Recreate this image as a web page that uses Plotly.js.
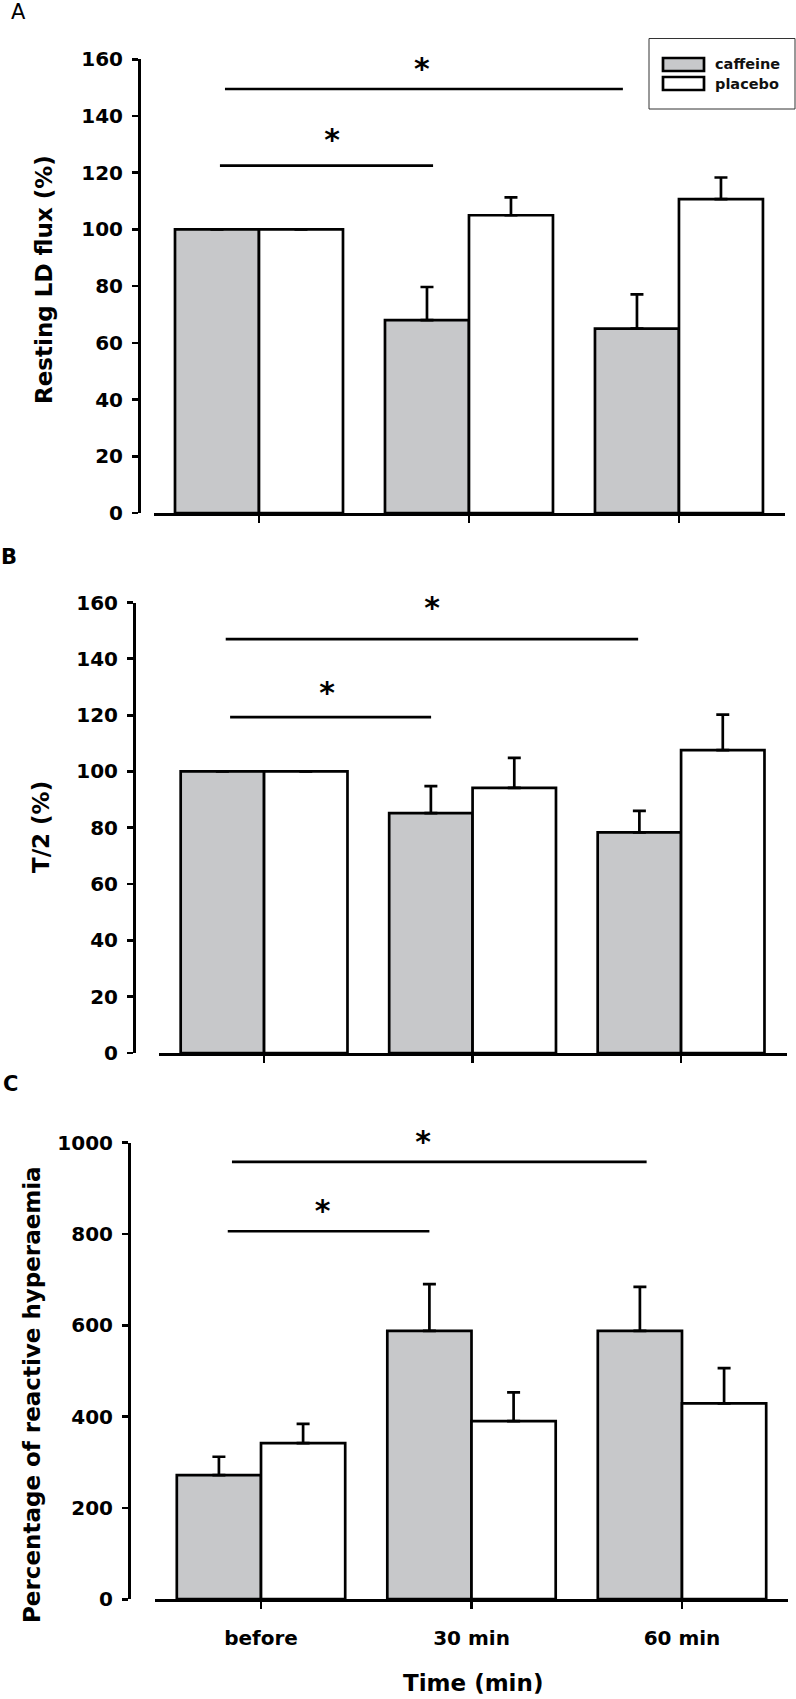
<!DOCTYPE html>
<html>
<head>
<meta charset="utf-8">
<script src="https://cdn.plot.ly/plotly-3.0.1.min.js"></script>
<style>html,body{margin:0;padding:0;background:#fff;}#chart{width:796px;height:1699px;}</style>
</head>
<body>
<div id="chart"></div>
<script>
// ---- data ----
const categories = ['before', '30 min', '60 min'];
const seriesNames = ['caffeine', 'placebo'];

// Panel A: Resting LD flux (%)
const caffeineA = [100, 68, 65];
const caffeineErrA = [null, 11.7, 12.1];
const placeboA = [100, 105, 110.7];
const placeboErrA = [null, 6.3, 7.6];

// Panel B: T/2 (%)
const caffeineB = [100, 85.2, 78.4];
const caffeineErrB = [null, 9.6, 7.6];
const placeboB = [100, 94.2, 107.6];
const placeboErrB = [null, 10.6, 12.6];

// Panel C: Percentage of reactive hyperaemia
const caffeineC = [272, 588, 588];
const caffeineErrC = [40, 102, 96];
const placeboC = [342, 390, 429];
const placeboErrC = [42, 63, 77];

// significance brackets: [xStart, xEnd, level]
const sigA = [[-0.162, 1.733, 149.5], [-0.186, 0.829, 122.5]];
const sigB = [[-0.184, 1.794, 147], [-0.163, 0.801, 119.3]];
const sigC = [[-0.138, 1.832, 958], [-0.158, 0.800, 806]];
// stars (text anchor points): [x, y]
const starsA = [[0.776, 155.5], [0.348, 130.5]];
const starsB = [[0.806, 157], [0.302, 127]];
const starsC = [[0.770, 997], [0.293, 845]];

const yTitles = ['Resting LD flux (%)', 'T/2 (%)', 'Percentage of reactive hyperaemia'];
const xTitle = 'Time (min)';
const panelLabels = ['A', 'B', 'C'];

// ---- styles ----
const FONT = 'DejaVu Sans, Verdana, sans-serif';
const GRAY = '#c7c8ca';
const LW = 2.7;
const W = 796, H = 1699;
const px = v => v / W;
const py = v => (H - v) / H;

const xpos = categories.map((_, i) => i);

function barPair(vals1, err1, vals2, err2, ax) {
  const mk = (vals, err, color, name) => ({
    type: 'bar', x: xpos, y: vals, name: name,
    xaxis: 'x' + ax, yaxis: 'y' + ax,
    marker: {color: color, line: {color: '#000', width: LW}},
    error_y: {type: 'data', symmetric: false, array: err, arrayminus: err.map(() => 0),
              color: '#000', thickness: LW, width: 6.5},
    showlegend: false, hoverinfo: 'skip'
  });
  return [mk(vals1, err1, GRAY, seriesNames[0]), mk(vals2, err2, '#ffffff', seriesNames[1])];
}
function sigTraces(sig, stars, ax) {
  const lx = [], ly = [];
  sig.forEach(s => { lx.push(s[0], s[1], null); ly.push(s[2], s[2], null); });
  return [
    {type: 'scatter', mode: 'lines', x: lx, y: ly, xaxis: 'x' + ax, yaxis: 'y' + ax,
     line: {color: '#000', width: LW}, cliponaxis: false, showlegend: false, hoverinfo: 'skip'},
    {type: 'scatter', mode: 'text', x: stars.map(s => s[0]), y: stars.map(s => s[1]),
     text: stars.map(() => '*'), textposition: 'middle center',
     textfont: {family: FONT, size: 30, color: '#000', weight: 'bold'},
     xaxis: 'x' + ax, yaxis: 'y' + ax, cliponaxis: false, showlegend: false, hoverinfo: 'skip'}
  ];
}

const data = [].concat(
  barPair(caffeineA, caffeineErrA, placeboA, placeboErrA, ''),
  sigTraces(sigA, starsA, ''),
  barPair(caffeineB, caffeineErrB, placeboB, placeboErrB, '2'),
  sigTraces(sigB, starsB, '2'),
  barPair(caffeineC, caffeineErrC, placeboC, placeboErrC, '3'),
  sigTraces(sigC, starsC, '3')
);

const tickFont = {family: FONT, size: 20, color: '#000', weight: 'bold'};

function xax(x0, x1, range, anchor, labels) {
  return {domain: [px(x0), px(x1)], range: range, anchor: anchor,
    tickmode: 'array', tickvals: xpos, ticktext: categories,
    ticks: 'outside', ticklen: 7, tickwidth: LW, tickcolor: '#000',
    showline: true, linewidth: LW, linecolor: '#000',
    showgrid: false, zeroline: false, showticklabels: labels,
    tickfont: tickFont, ticklabelstandoff: 12, fixedrange: true};
}
function yax(yBottom, yTop, range, dtick, xLine) {
  return {domain: [py(yBottom), py(yTop)], range: range, anchor: 'free', position: px(xLine),
    tick0: 0, dtick: dtick, ticks: 'outside', ticklen: 6, tickwidth: LW, tickcolor: '#000',
    showline: true, linewidth: LW, linecolor: '#000',
    showgrid: false, zeroline: false, tickfont: tickFont, ticklabelstandoff: 5, fixedrange: true};
}

const titleFont = {family: FONT, size: 23, color: '#000', weight: 'bold'};
const annotations = [
  {text: panelLabels[0], x: px(18), y: py(12.5), font: {family: FONT, size: 21, color: '#000'}},
  {text: panelLabels[1], x: px(9), y: py(557), font: {family: FONT, size: 21, color: '#000', weight: 'bold'}},
  {text: panelLabels[2], x: px(10), y: py(1084), font: {family: FONT, size: 21, color: '#000', weight: 'bold'}},
  {text: yTitles[0], x: px(44), y: py(280), textangle: -90, font: titleFont},
  {text: yTitles[1], x: px(41), y: py(827), textangle: -90, font: titleFont},
  {text: yTitles[2], x: px(32), y: py(1395), textangle: -90, font: titleFont},
  {text: xTitle, x: px(473), y: py(1683), font: titleFont},
  {text: seriesNames[0], x: px(713), y: py(64.5), xanchor: 'left', font: {family: FONT, size: 14.5, color: '#111', weight: 'bold'}},
  {text: seriesNames[1], x: px(713), y: py(84), xanchor: 'left', font: {family: FONT, size: 14.5, color: '#111', weight: 'bold'}}
].map(a => Object.assign({xref: 'paper', yref: 'paper', showarrow: false,
  xanchor: 'center', yanchor: 'middle'}, a));

const shapes = [
  {type: 'rect', x0: px(649), x1: px(795), y0: py(109), y1: py(38.5), line: {color: '#333', width: 1}},
  {type: 'rect', x0: px(663), x1: px(704), y0: py(71), y1: py(58), fillcolor: GRAY, line: {color: '#000', width: LW}},
  {type: 'rect', x0: px(663), x1: px(704), y0: py(90), y1: py(77), fillcolor: '#fff', line: {color: '#000', width: LW}}
].map(s => Object.assign({xref: 'paper', yref: 'paper'}, s));

const layout = {
  width: W, height: H, autosize: false,
  margin: {l: 0, r: 0, t: 0, b: 0},
  paper_bgcolor: '#fff', plot_bgcolor: 'rgba(0,0,0,0)',
  barmode: 'group', bargap: 0.2, bargroupgap: 0,
  showlegend: false,
  font: {family: FONT, color: '#000'},
  xaxis: xax(154, 785, [-0.5, 2.505], 'y', false),
  yaxis: yax(513.1, 59.2, [0, 160], 20, 139),
  xaxis2: xax(159, 787, [-0.504, 2.508], 'y2', false),
  yaxis2: yax(1053.1, 602.5, [0, 160], 20, 134),
  xaxis3: xax(155, 788, [-0.5036, 2.5036], 'y3', true),
  yaxis3: yax(1599.2, 1142.7, [0, 1000], 200, 129),
  annotations: annotations,
  shapes: shapes
};

Plotly.newPlot('chart', data, layout, {displayModeBar: false, staticPlot: true});
</script>
</body>
</html>
